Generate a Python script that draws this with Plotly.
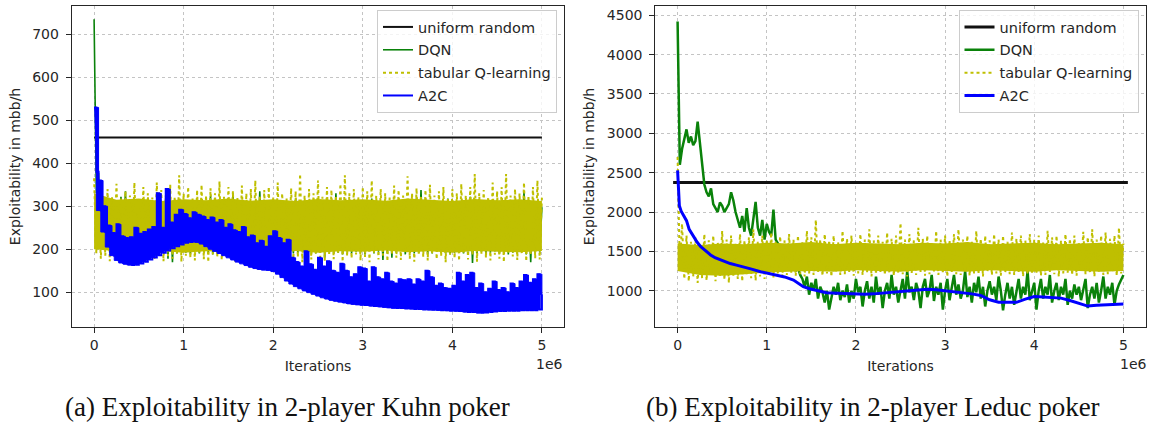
import numpy as np
import plotly.graph_objects as go

# ------------------------------------------------------------------
# Data (iterations run from 0 to 5e6)
# ------------------------------------------------------------------
T_END = 5e6

# ---- (a) Kuhn poker ----
kuhn_uniform_iter = [0, 5e6]
kuhn_uniform = [460, 460]

# DQN: upper / lower extremes of the noisy trace (evenly spaced samples)
kuhn_dqn_hi = [735, 378, 300, 310, 305, 300, 322, 335, 312, 305, 300, 310, 302, 296, 308, 300, 315, 305, 298, 310,
               302, 300, 312, 305, 298, 308, 325, 300, 306, 312, 300, 330, 305, 298, 310, 302, 300, 335, 305, 298,
               310, 300, 305, 312, 300, 318, 305, 298, 310, 300, 306, 312, 300, 305, 330, 300, 310, 298, 305, 312,
               300, 306, 318, 300, 305, 298, 310, 302, 300, 312, 305, 300, 320, 338, 305, 300, 310, 298, 305, 318,
               300, 306, 310, 300, 322, 305, 300, 310, 298, 305, 312, 300, 306, 300, 310, 305, 335, 300, 310, 305,
               298]
kuhn_dqn_lo = [330, 230, 198, 192, 190, 195, 188, 178, 172, 192, 195, 190, 196, 188, 192, 194, 178, 170, 190, 195,
               192, 188, 196, 190, 194, 192, 188, 195, 191, 186, 194, 190, 196, 188, 192, 195, 190, 186, 194, 192,
               190, 196, 188, 194, 190, 192, 195, 188, 192, 190, 196, 180, 194, 190, 192, 188, 195, 190, 194, 192,
               188, 196, 190, 194, 175, 190, 180, 192, 196, 188, 194, 190, 192, 195, 188, 190, 194, 196, 190, 188,
               192, 194, 190, 195, 168, 190, 194, 188, 192, 195, 190, 194, 188, 192, 190, 196, 188, 170, 192, 194]

# tabular Q-learning: dotted spikes (upper / lower) and the dense core of the band
kuhn_tab_hi = [365, 330, 318, 340, 322, 352, 318, 335, 325, 355, 320, 345, 330, 320, 355, 338, 325, 350, 322, 372,
               330, 345, 320, 338, 350, 325, 342, 330, 358, 322, 345, 335, 320, 348, 330, 340, 360, 325, 338, 345,
               320, 355, 330, 318, 342, 335, 375, 325, 340, 330, 360, 322, 345, 338, 325, 352, 372, 330, 340, 322,
               345, 335, 360, 325, 340, 330, 320, 348, 338, 325, 370, 330, 342, 322, 338, 350, 325, 335, 345, 320,
               340, 330, 352, 325, 345, 375, 330, 338, 322, 355, 335, 345, 375, 325, 340, 330, 355, 325, 345, 360,
               320]
kuhn_tab_lo = [190, 178, 185, 172, 195, 180, 170, 188, 175, 192, 182, 170, 186, 176, 195, 172, 184, 178, 190, 171,
               185, 180, 174, 192, 177, 170, 188, 182, 175, 193, 178, 171, 186, 180, 174, 190, 176, 183, 170, 188,
               179, 185, 172, 194, 178, 182, 170, 187, 176, 190, 181, 173, 186, 177, 192, 171, 184, 179, 188, 174,
               182, 170, 191, 176, 185, 172, 188, 180, 175, 193, 178, 171, 186, 182, 174, 190, 177, 184, 170, 188,
               179, 173, 192, 176, 185, 171, 189, 180, 174, 187, 178, 170, 191, 183, 175, 188, 172, 186, 179, 176]
kuhn_tab_core_hi = [330, 315, 318, 312, 316, 314, 318, 313, 316, 312, 317, 314, 316, 313, 318, 315, 312, 317, 314, 316, 312]
kuhn_tab_core_lo = [200, 195, 193, 196, 192, 195, 194, 197, 193, 196, 192, 195, 194, 197, 193, 195, 192, 196, 194, 193, 196]

# A2C: upper (spiky) and lower (smooth) edge of the noisy band
kuhn_a2c_hi = [530, 360, 300, 255, 238, 258, 230, 226, 228, 250, 236, 240, 246, 252, 330, 250, 340, 262, 280, 292,
               282, 272, 286, 280, 276, 268, 274, 262, 268, 250, 258, 244, 240, 252, 228, 232, 214, 220, 206, 230,
               242, 226, 214, 222, 180, 170, 160, 195, 165, 152, 180, 160, 172, 150, 145, 166, 150, 135, 142, 158,
               155, 125, 158, 135, 130, 145, 125, 120, 130, 128, 130, 118, 130, 125, 150, 135, 115, 120, 110, 108,
               115, 145, 125, 140, 145, 110, 120, 100, 108, 125, 105, 110, 100, 120, 110, 125, 140, 122, 130, 142,
               95]
kuhn_a2c_lo = [380, 290, 240, 205, 185, 174, 168, 165, 163, 164, 167, 171, 176, 181, 186, 192, 197, 202, 207, 211,
               215, 217, 218, 216, 212, 206, 200, 195, 190, 185, 180, 175, 170, 166, 162, 158, 155, 153, 152, 151,
               148, 142, 134, 126, 119, 113, 108, 103, 99, 95, 91, 87, 84, 81, 79, 77, 75, 73, 72, 71,
               70, 69, 68, 67, 66, 65, 64, 63, 63, 62, 62, 61, 61, 60, 60, 59, 59, 58, 58, 57,
               57, 56, 55, 54, 54, 53, 52, 53, 54, 55, 56, 56, 57, 57, 57, 58, 58, 58, 58, 60]

# ---- (b) Leduc poker ----
leduc_uniform_iter = [-0.05e6, 5.05e6]
leduc_uniform = [2375, 2375]

leduc_dqn = [4420, 2600, 2800, 2950, 3050, 2880, 2960, 2850, 2900, 3150, 2900, 2600, 2350, 2250, 2200, 2300, 2100, 2050, 2000, 2120,
             2080, 2000, 2050, 2100, 2250, 2150, 2000, 1900, 1800, 1950, 1750, 2050, 1800, 1700, 1900, 2130, 1800, 1700, 1900, 1650,
             1850, 1750, 1700, 2030, 1650, 1600, 1450, 1500, 1380, 1420, 1350, 1300, 1400, 1250, 1300, 1200, 1150, 1050, 1180, 950,
             1100, 1000, 1150, 900, 1050, 980, 850, 1000, 760, 900, 1050, 950, 1100, 880, 1000, 920, 1080, 850, 1000, 900,
             1150, 980, 1050, 800, 1000, 1120, 900, 1050, 850, 1180, 950, 1050, 780, 1000, 1100, 900, 1200, 950, 1050, 850,
             1000, 1150, 900, 1250, 980, 1050, 880, 1100, 1000, 780, 1050, 1150, 920, 1000, 1200, 870, 1050, 950, 1100, 760,
             1000, 1150, 880, 1050, 1200, 950, 1080, 900, 1000, 1250, 920, 1050, 850, 1100, 980, 1180, 900, 1050, 800, 1000,
             1120, 950, 1050, 880, 1180, 1000, 750, 950, 1100, 900, 1050, 820, 1000, 1150, 900, 1050, 950, 1250, 880, 1000,
             1100, 760, 1000, 1150, 900, 1050, 950, 1200, 850, 1000, 1100, 880, 1050, 950, 1150, 820, 1000, 900, 1080, 950,
             1050, 880, 1000, 1150, 780, 950, 1050, 900, 1100, 850, 1000, 1180, 900, 1050, 950, 1100, 820, 1000, 1080, 1150,
             1200]

leduc_tab_hi = [2700, 1850, 1700, 1620, 1680, 1600, 1720, 1640, 1700, 1620, 1760, 1650, 1700, 1600, 1720, 1640, 1680, 1780, 1620, 1700,
                1650, 1740, 1620, 1690, 1640, 1720, 1650, 1700, 1620, 1760, 1680, 1900, 1650, 1720, 1640, 1700, 1620, 1760, 1660, 1700,
                1620, 1720, 1650, 1780, 1640, 1700, 1620, 1740, 1660, 1700, 1860, 1650, 1720, 1640, 1800, 1660, 1700, 1620, 1760, 1650,
                1700, 1640, 1720, 1780, 1650, 1700, 1620, 1760, 1660, 1700, 1640, 1720, 1650, 1700, 1620, 1740, 1660, 1700, 1640, 1720,
                1650, 1700, 1620, 1760, 1680, 1700, 1640, 1720, 1660, 1700, 1620, 1750, 1680, 1780, 1650, 1700, 1740, 1660, 1700, 1800,
                1600]
leduc_tab_lo = [1300, 1150, 1120, 1180, 1100, 1160, 1130, 1200, 1120, 1170, 1140, 1100, 1190, 1150, 1120, 1210, 1160, 1130, 1180, 1150,
                1200, 1170, 1220, 1180, 1200, 1230, 1190, 1210, 1180, 1220, 1200, 1240, 1190, 1220, 1180, 1230, 1200, 1210, 1240, 1190,
                1220, 1200, 1230, 1180, 1210, 1240, 1200, 1220, 1190, 1230, 1210, 1180, 1220, 1200, 1240, 1190, 1210, 1230, 1200, 1220,
                1180, 1240, 1210, 1200, 1230, 1190, 1220, 1210, 1180, 1240, 1200, 1220, 1190, 1230, 1210, 1200, 1240, 1180, 1220, 1210,
                1230, 1190, 1200, 1240, 1210, 1180, 1220, 1230, 1200, 1190, 1240, 1210, 1220, 1180, 1230, 1200, 1210, 1240, 1190, 1220]
leduc_tab_core_hi = [1600, 1580, 1600, 1590, 1610, 1600, 1620, 1590, 1610, 1600, 1590, 1610, 1600, 1620, 1590, 1600, 1610, 1590, 1600, 1610, 1590]
leduc_tab_core_lo = [1250, 1200, 1190, 1210, 1230, 1240, 1250, 1240, 1260, 1250, 1240, 1260, 1250, 1240, 1260, 1250, 1240, 1260, 1250, 1240, 1250]

leduc_a2c_iter_m = [0, 0.01, 0.02, 0.04, 0.06, 0.1, 0.13, 0.16, 0.19, 0.22, 0.26, 0.3, 0.37, 0.42, 0.48, 0.59, 0.66, 0.74, 0.83, 0.93,
                    1.0, 1.1, 1.2, 1.3, 1.35, 1.41, 1.48, 1.56, 1.67, 1.8, 1.9, 2.0, 2.1, 2.2, 2.3, 2.4, 2.5, 2.6, 2.7, 2.8,
                    2.9, 3.0, 3.1, 3.2, 3.3, 3.4, 3.5, 3.6, 3.7, 3.8, 3.9, 4.0, 4.1, 4.2, 4.3, 4.4, 4.5, 4.6, 4.7, 4.8,
                    4.9, 5.0]
leduc_a2c = [2530, 2300, 2080, 2010, 1965, 1890, 1780, 1720, 1665, 1615, 1560, 1520, 1455, 1420, 1390, 1345, 1325, 1305, 1275, 1242,
             1225, 1200, 1175, 1136, 1100, 1051, 1025, 1008, 975, 968, 962, 958, 955, 960, 968, 978, 990, 1000, 1010, 1020,
             1012, 1000, 990, 978, 960, 940, 885, 855, 850, 852, 893, 927, 920, 912, 906, 875, 840, 805, 815, 820,
             822, 830]

x_tick_vals = [0, 1e6, 2e6, 3e6, 4e6, 5e6]
x_tick_text = ["0", "1", "2", "3", "4", "5"]
kuhn_y_ticks = [100, 200, 300, 400, 500, 600, 700]
leduc_y_ticks = [1000, 1500, 2000, 2500, 3000, 3500, 4000, 4500]

series_names = ["uniform random", "DQN", "tabular Q-learning", "A2C"]
captions = ["(a) Exploitability in 2-player Kuhn poker", "(b) Exploitability in 2-player Leduc poker"]

# ------------------------------------------------------------------
BLACK, GREEN, YELLOW, BLUE = "#111111", "#0a820a", "#bfbf00", "#0000ff"
TXT = "#262626"
FONT = "DejaVu Sans"


def even_x(n):
    return np.linspace(0, T_END, n)


def zigzag(hi, lo):
    """Alternate the upper and lower extremes of a noisy trace."""
    xh = even_x(len(hi))
    half = (xh[1] - xh[0]) / 2
    xs, ys = [], []
    for i, h in enumerate(hi):
        xs.append(xh[i]); ys.append(h)
        if i < len(lo):
            xs.append(xh[i] + half); ys.append(lo[i])
    return xs, ys


def band(hi, lo, offset_lo=True):
    xh = even_x(len(hi))
    half = (xh[1] - xh[0]) / 2 if offset_lo else 0
    xl = [xh[i] + half for i in range(len(lo))]
    return list(xh) + xl[::-1], list(hi) + list(lo)[::-1]


fig = go.Figure()


def add(trace, panel, group=None):
    if panel == 2:
        trace.update(xaxis="x2", yaxis="y2", legend="legend2")
    if group is not None:
        trace.update(legendgroup=f"p{panel}_{group}")
    fig.add_trace(trace)


for panel in (1, 2):
    if panel == 1:
        uni_x, uni_y = kuhn_uniform_iter, kuhn_uniform
    else:
        uni_x, uni_y = leduc_uniform_iter, leduc_uniform
    add(go.Scatter(x=uni_x, y=uni_y, mode="lines", name=series_names[0],
                   line=dict(color=BLACK, width=2 if panel == 1 else 3)), panel, 0)

    # DQN
    if panel == 1:
        dx, dy = zigzag(kuhn_dqn_hi, kuhn_dqn_lo)
        add(go.Scatter(x=dx, y=dy, mode="lines", name=series_names[1],
                       line=dict(color=GREEN, width=1.6)), panel, 1)
    else:
        add(go.Scatter(x=even_x(len(leduc_dqn)), y=leduc_dqn, mode="lines", name=series_names[1],
                       line=dict(color=GREEN, width=2.5)), panel, 1)

    # tabular Q-learning
    if panel == 1:
        ch, cl, th, tl = kuhn_tab_core_hi, kuhn_tab_core_lo, kuhn_tab_hi, kuhn_tab_lo
    else:
        ch, cl, th, tl = leduc_tab_core_hi, leduc_tab_core_lo, leduc_tab_hi, leduc_tab_lo
    bx, by = band(ch, cl, offset_lo=False)
    add(go.Scatter(x=bx, y=by, mode="lines", fill="toself", fillcolor=YELLOW,
                   line=dict(width=0, color=YELLOW), showlegend=False, hoverinfo="skip"), panel, 2)
    tx, ty = zigzag(th, tl)
    add(go.Scatter(x=tx, y=ty, mode="lines", name=series_names[2],
                   line=dict(color=YELLOW, width=2, dash="dot")), panel, 2)

    # A2C
    if panel == 1:
        ax_, ay_ = band(kuhn_a2c_hi, kuhn_a2c_lo)
        add(go.Scatter(x=ax_, y=ay_, mode="lines", fill="toself", fillcolor=BLUE,
                       line=dict(width=1, color=BLUE, shape="hv"), showlegend=False, hoverinfo="skip"), panel, 3)
        zx, zy = zigzag(kuhn_a2c_hi, kuhn_a2c_lo)
        add(go.Scatter(x=zx, y=zy, mode="lines", name=series_names[3],
                       line=dict(color=BLUE, width=2, shape="hv")), panel, 3)
    else:
        add(go.Scatter(x=[v * 1e6 for v in leduc_a2c_iter_m], y=leduc_a2c, mode="lines",
                       name=series_names[3], line=dict(color=BLUE, width=3)), panel, 3)

W, H = 1151, 428
M_T, M_B = 6, 101
PH = H - M_T - M_B


def py(pix):  # pixel row -> paper y
    return 1 - (pix - M_T) / PH


axis_common = dict(showline=True, mirror=True, linecolor=TXT, linewidth=1,
                   ticks="outside", ticklen=5, tickwidth=1, tickcolor=TXT,
                   showgrid=True, gridcolor="#c4c4c4", griddash="dot", gridwidth=1,
                   zeroline=False, tickfont=dict(family=FONT, size=14, color=TXT))

xa = dict(axis_common, tickvals=x_tick_vals, ticktext=x_tick_text, range=[-0.25e6, 5.25e6],
          title=dict(text="Iterations", font=dict(family=FONT, size=14, color=TXT), standoff=9),
          ticklabelstandoff=0)

legend_common = dict(xref="paper", yref="paper", xanchor="right", yanchor="top",
                     bgcolor="rgba(255,255,255,0.8)", bordercolor="#cccccc", borderwidth=1,
                     font=dict(family=FONT, size=14.5, color=TXT), itemwidth=30,
                     traceorder="grouped", tracegroupgap=1)

fig.update_layout(
    width=W, height=H,
    margin=dict(l=0, r=0, t=M_T, b=M_B, autoexpand=False),
    paper_bgcolor="white", plot_bgcolor="white",
    showlegend=True,
    xaxis=dict(xa, domain=[71.7 / W, 564.3 / W], anchor="y"),
    yaxis=dict(axis_common, domain=[0, 1], anchor="x", range=[19, 766], tickvals=kuhn_y_ticks,
               ticklabelstandoff=4,
               title=dict(text="Exploitability in mbb/h", font=dict(family=FONT, size=14, color=TXT), standoff=8)),
    xaxis2=dict(xa, domain=[655.3 / W, 1145.7 / W], anchor="y2"),
    yaxis2=dict(axis_common, domain=[0, 1], anchor="x2", range=[539, 4618], tickvals=leduc_y_ticks,
                ticklabelstandoff=4,
                title=dict(text="Exploitability in mbb/h", font=dict(family=FONT, size=14, color=TXT), standoff=8)),
    legend=dict(legend_common, x=557 / W, y=py(10)),
    legend2=dict(legend_common, x=1138.5 / W, y=py(10)),
)

annotations = [
    dict(text="1e6", x=549.7 / W, y=py(364), xref="paper", yref="paper", showarrow=False,
         font=dict(family=FONT, size=14, color=TXT), xanchor="center", yanchor="middle"),
    dict(text="1e6", x=1133 / W, y=py(364), xref="paper", yref="paper", showarrow=False,
         font=dict(family=FONT, size=14, color=TXT), xanchor="center", yanchor="middle"),
    dict(text=captions[0], x=287 / W, y=py(407), xref="paper", yref="paper", showarrow=False,
         font=dict(family="Liberation Serif", size=27, color="#111111"), xanchor="center", yanchor="middle"),
    dict(text=captions[1], x=873 / W, y=py(407), xref="paper", yref="paper", showarrow=False,
         font=dict(family="Liberation Serif", size=27, color="#111111"), xanchor="center", yanchor="middle"),
]
fig.update_layout(annotations=annotations)

fig.write_html("out.html", config={"displayModeBar": False},
               post_script="document.body.style.margin='0px';document.body.style.padding='0px';")
